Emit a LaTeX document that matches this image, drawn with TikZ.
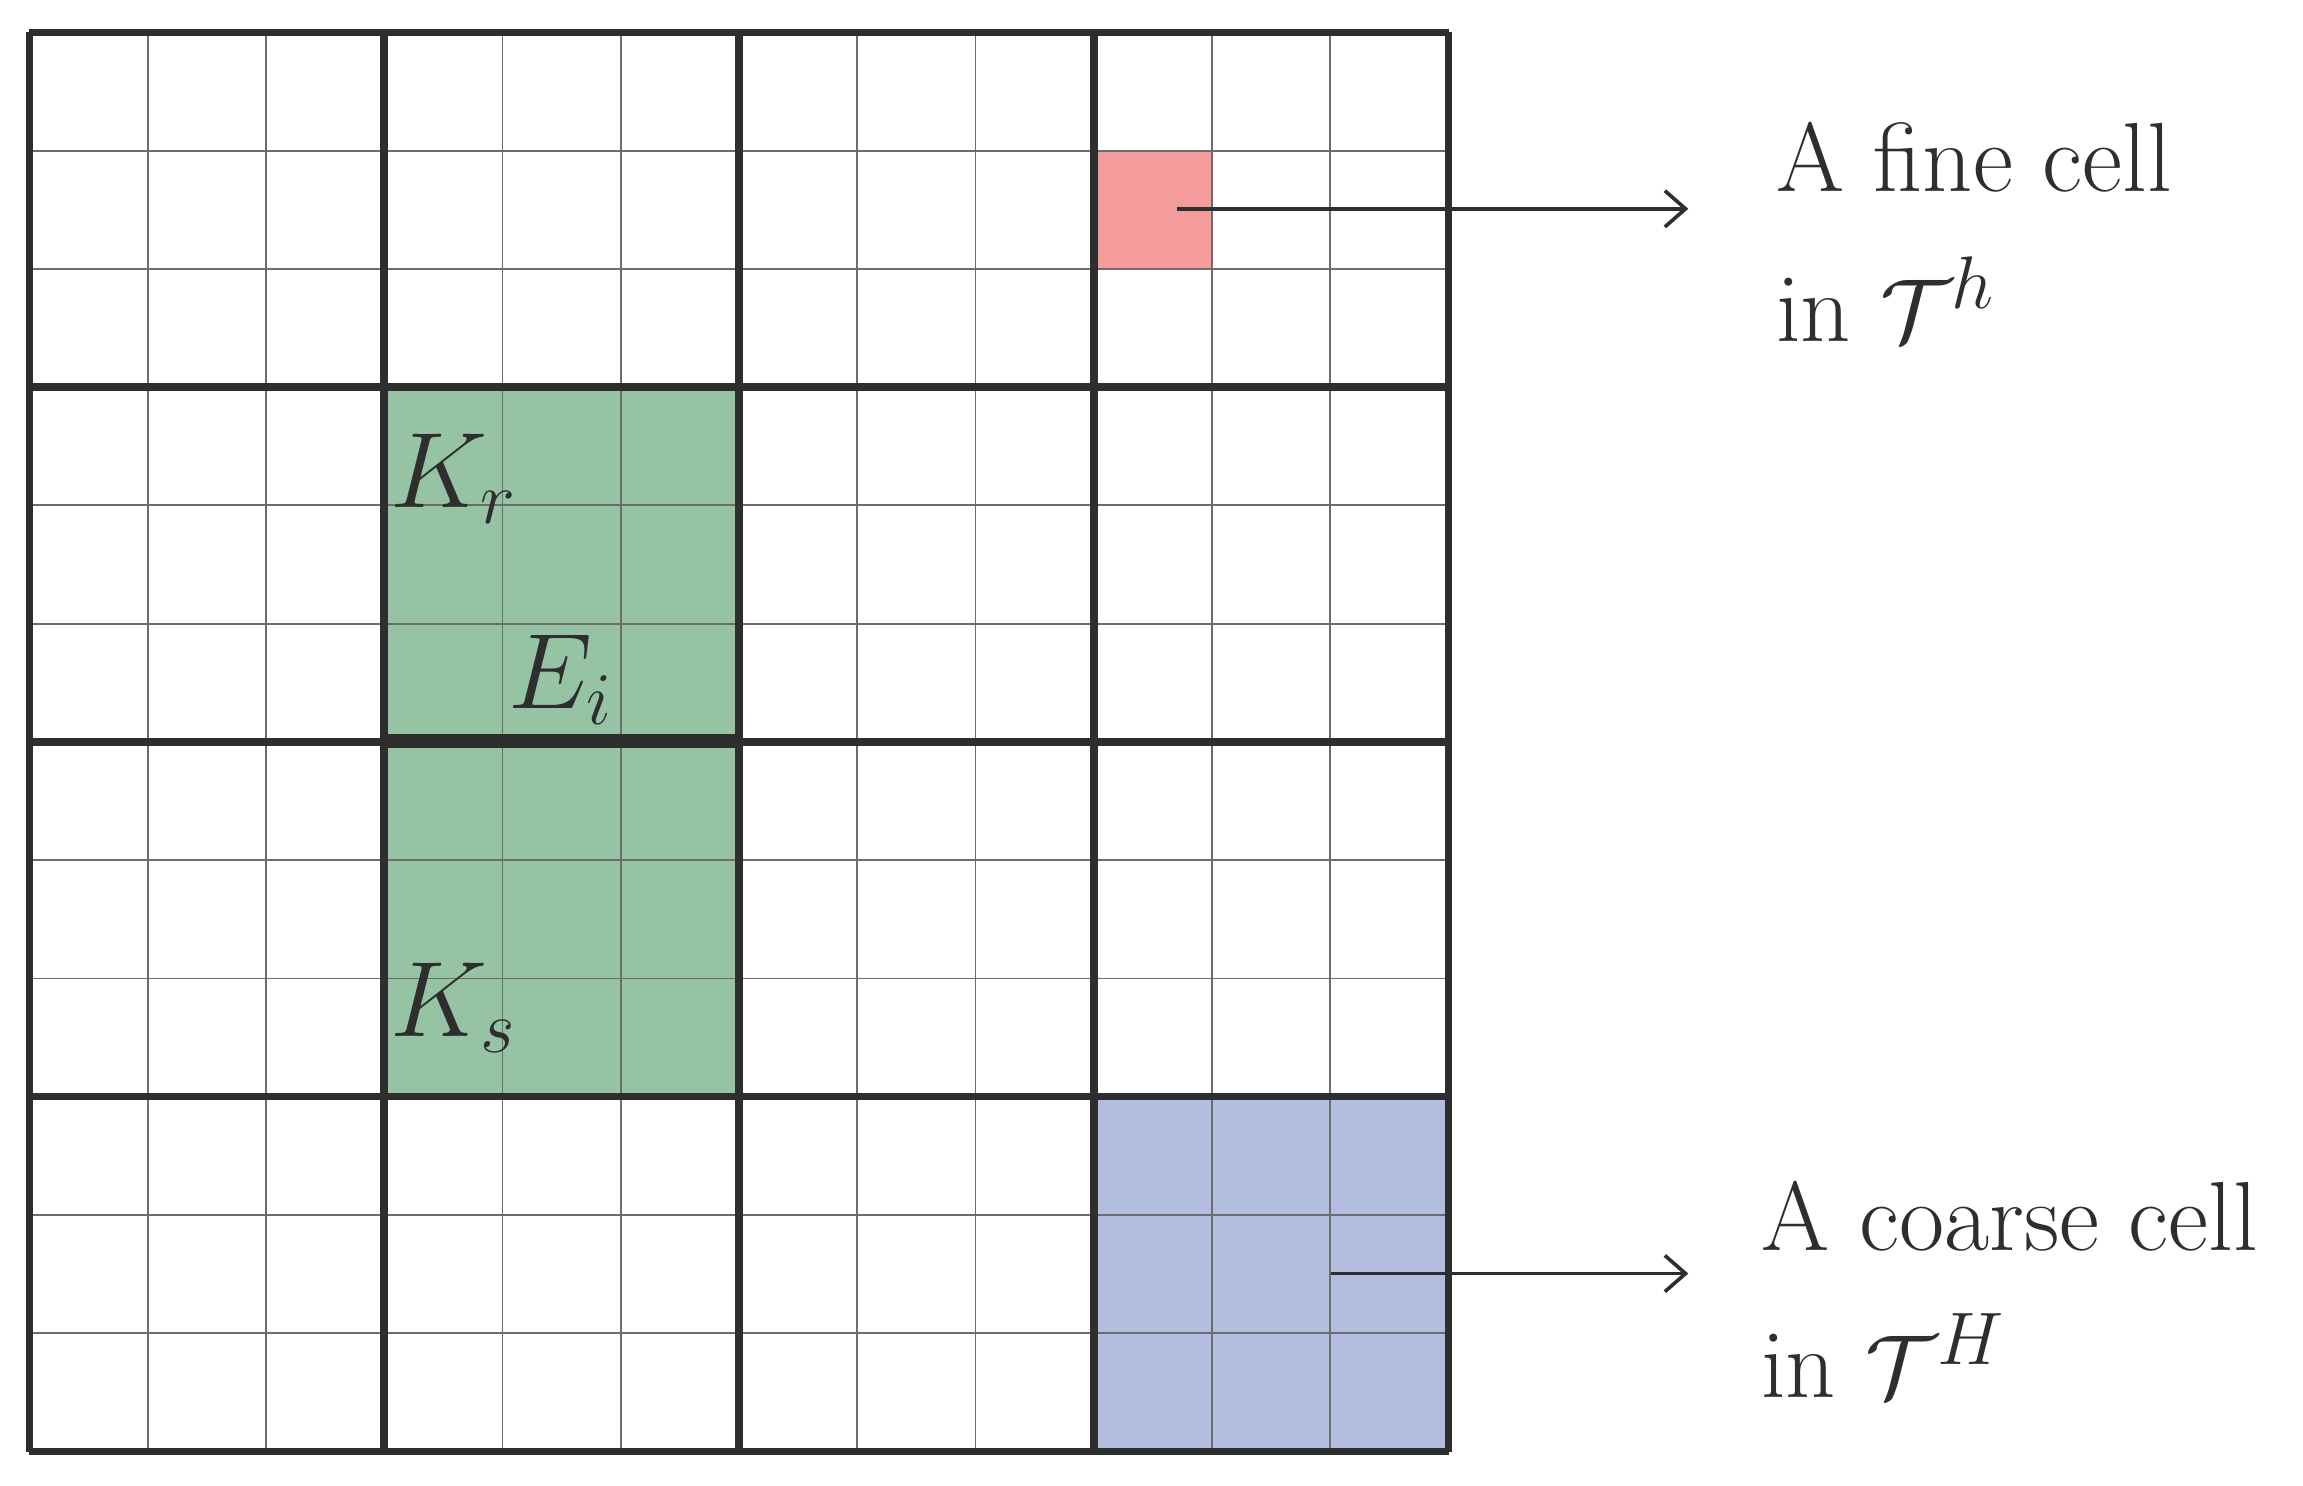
\documentclass[tikz,border=0pt]{standalone}
\usetikzlibrary{arrows.meta}
\definecolor{ink}{HTML}{2E2E2E}
\definecolor{pinkc}{HTML}{F49B9B}
\definecolor{greenc}{HTML}{97C3A5}
\definecolor{bluec}{HTML}{B3BDDF}
\tikzset{
  fine/.style={draw=ink!70,line width=0.35pt},
  coarse/.style={draw=ink,line width=1.45pt},
  lbl/.style={text=ink,font=\fontsize{19}{28}\selectfont,anchor=base west,inner sep=0pt},
  mlbl/.style={text=ink,font=\fontsize{21}{28}\selectfont,anchor=base west,inner sep=0pt},
  arr/.style={draw=ink,line width=0.7pt,-{Straight Barb[length=4pt,width=7pt]}}
}
\begin{document}
\begin{tikzpicture}[x=0.01cm,y=-0.01cm]
\useasboundingbox (0,0) rectangle (1566,1010);
\fill[pinkc] (745,102) rectangle (825,182);
\fill[greenc] (262,263) rectangle (502,745);
\fill[bluec] (745,745) rectangle (985,987);
\foreach \i in {0,...,12}{
  \draw[fine] ({20+\i*80.4167},22) -- ({20+\i*80.4167},987);
  \draw[fine] (20,{22+\i*80.4167}) -- (985,{22+\i*80.4167});
}
\foreach \i in {0,...,4}{
  \draw[coarse] ({20+\i*241.25},22) -- ({20+\i*241.25},987);
  \draw[coarse] (20,{22+\i*241.25}) -- (985,{22+\i*241.25});
}
\draw[draw=ink,line width=2.8pt] (262,504) -- (502,504);
\node[mlbl] (kr) at (265,345) {$K_r$};
\node[mlbl] (ei) at (345,482) {$E_i$};
\node[mlbl] (ks) at (265,705) {$K_s$};
\coordinate (fs) at (800,142);
\coordinate (cs) at (905,866);
\coordinate (fe) at (1148,142);
\coordinate (ce) at (1148,866);
\draw[arr] (fs) -- (fe);
\draw[arr] (cs) -- (ce);
\node[lbl] (f1) at (1207,130) {A fine cell};
\node[lbl] (f2) at (1207,232) {in $\mathcal{T}^h$};
\node[lbl] (c1) at (1197,850) {A coarse cell};
\node[lbl] (c2) at (1197,950) {in $\mathcal{T}^H$};
\end{tikzpicture}
\end{document}
